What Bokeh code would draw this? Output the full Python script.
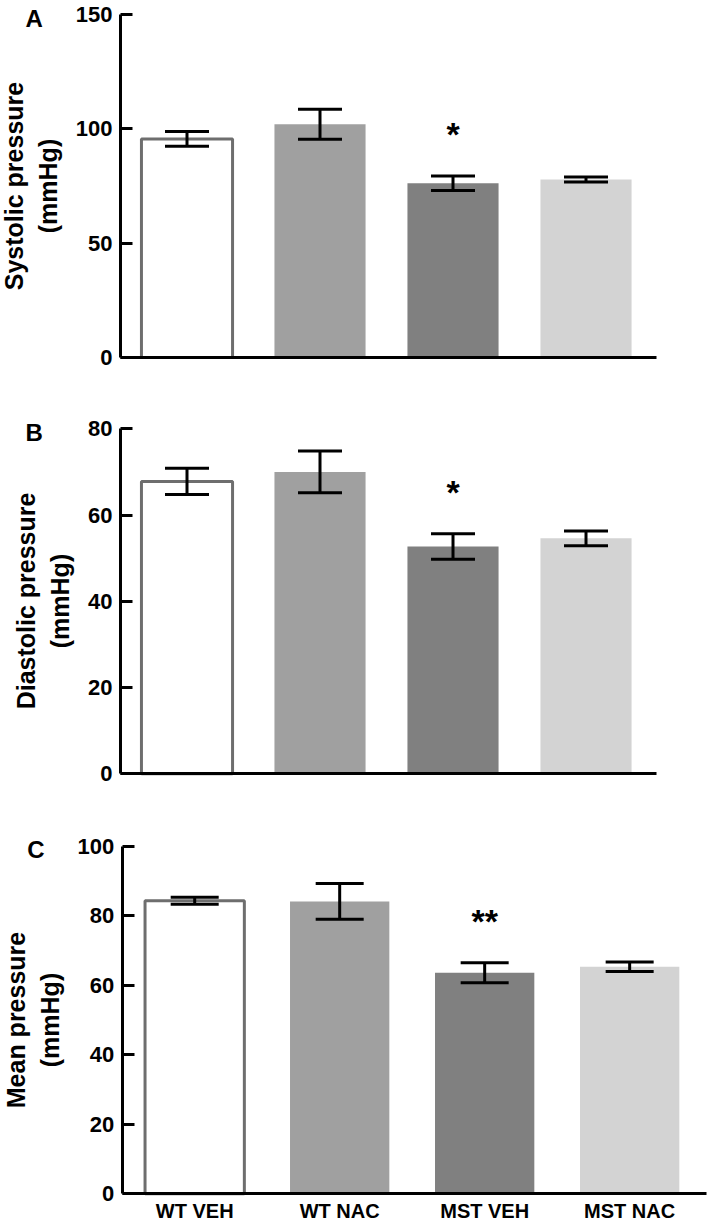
from bokeh.plotting import figure
from bokeh.models import (ColumnDataSource, Range1d, FixedTicker, Whisker, TeeHead, Label)
from bokeh.layouts import column
from bokeh.embed import file_html
from bokeh.resources import INLINE
from bokeh.core.properties import value

# ---------------- data ----------------
categories = ["WT VEH", "WT NAC", "MST VEH", "MST NAC"]
bar_colors = ["#ffffff", "#a0a0a0", "#808080", "#d3d3d3"]
bar_lines = ["#6e6e6e", None, None, None]

systolic_mean = [95.6, 102.0, 76.2, 77.8]
systolic_err = [3.25, 6.6, 3.2, 1.1]
systolic_sig = ["", "", "*", ""]
systolic_ticks = [0, 50, 100, 150]

diastolic_mean = [67.8, 70.0, 52.7, 54.6]
diastolic_err = [3.05, 4.85, 2.95, 1.7]
diastolic_sig = ["", "", "*", ""]
diastolic_ticks = [0, 20, 40, 60, 80]

mean_mean = [84.3, 84.1, 63.6, 65.3]
mean_err = [1.0, 5.15, 2.9, 1.35]
mean_sig = ["", "", "**", ""]
mean_ticks = [0, 20, 40, 60, 80, 100]

FONT = "Liberation Sans"
CANVAS_W = 709
X_SPAN = len(categories) + 0.03  # category units covered by the x axis line


def panel(letter, ylabel, means, errs, sig, ticks, height,
          ax_left, ax_right, ax_top, ax_zero, cap, show_x):
    """ax_* are pixel positions of the axes inside the canvas."""
    n = len(categories)
    xs = list(range(n))
    ppx = (ax_right - ax_left) / X_SPAN
    x0 = -0.5 - ax_left / ppx
    x1 = -0.5 + (CANVAS_W - ax_left) / ppx
    ymax = ticks[-1]
    ppy = (ax_zero - ax_top) / ymax
    y1 = ymax + ax_top / ppy
    y0 = -(height - ax_zero) / ppy

    p = figure(width=CANVAS_W, height=height, title=None,
               x_range=Range1d(x0, x1), y_range=Range1d(y0, y1),
               output_backend="svg", toolbar_location=None,
               min_border=0)
    p.outline_line_color = None
    p.xgrid.visible = False
    p.ygrid.visible = False
    p.background_fill_color = "white"
    p.border_fill_color = "white"

    src = ColumnDataSource(dict(
        x=xs, top=means,
        upper=[m + e for m, e in zip(means, errs)],
        lower=[m - e for m, e in zip(means, errs)],
        fill=bar_colors, line=bar_lines,
    ))
    p.vbar(x="x", top="top", bottom=0, width=0.685, source=src,
           fill_color="fill", line_color="line", line_width=3)

    head_u = TeeHead(size=cap, line_width=3, line_color="black")
    head_l = TeeHead(size=cap, line_width=3, line_color="black")
    p.add_layout(Whisker(base="x", upper="upper", lower="lower", source=src,
                         line_width=3, line_color="black", level="overlay",
                         upper_head=head_u, lower_head=head_l))

    sx = [x for x, s in zip(xs, sig) if s]
    sy = [m + e for m, e, s in zip(means, errs, sig) if s]
    st = [s for s in sig if s]
    p.text(x=sx, y=sy, text=st, text_align="center",
           text_baseline="middle", y_offset=-42,
           text_font=value(FONT), text_font_size="34px", text_font_style="bold",
           text_color="black")

    # y axis drawn at x = -0.5 inside the canvas
    ya = p.yaxis[0]
    ya.fixed_location = -0.5
    ya.bounds = (0, ymax)
    ya.ticker = FixedTicker(ticks=ticks)
    ya.minor_tick_line_color = None
    ya.major_tick_in = 12
    ya.major_tick_out = 0
    ya.axis_line_width = 3
    ya.major_tick_line_width = 3
    ya.major_label_standoff = 8
    ya.major_label_text_font = FONT
    ya.major_label_text_font_size = "22px"
    ya.major_label_text_font_style = "bold"
    ya.major_label_text_color = "black"
    ya.axis_label = ylabel
    ya.axis_label_text_font = FONT
    ya.axis_label_text_font_size = "25px"
    ya.axis_label_text_font_style = "bold"
    ya.axis_label_text_color = "black"
    ya.axis_label_standoff = 11

    # x axis drawn at y = 0
    xa = p.xaxis[0]
    xa.fixed_location = 0
    xa.bounds = (-0.5, -0.5 + X_SPAN)
    xa.major_tick_line_color = None
    xa.minor_tick_line_color = None
    xa.major_tick_in = 0
    xa.major_tick_out = 0
    xa.axis_line_width = 3
    xa.major_label_text_font = FONT
    xa.major_label_text_font_style = "bold"
    xa.major_label_text_color = "black"
    xa.major_label_text_font_size = "20px"
    xa.major_label_standoff = 6
    if show_x:
        xa.ticker = FixedTicker(ticks=xs)
        xa.major_label_overrides = {i: c for i, c in zip(xs, categories)}
    else:
        xa.ticker = FixedTicker(ticks=[])

    p.add_layout(Label(x=-0.5, y=ymax, x_offset=-95, y_offset=-3.5, text=letter,
                       text_align="left", text_baseline="middle",
                       text_font=FONT, text_font_size="24px", text_font_style="bold",
                       text_color="black"))
    return p


# panel canvases (picture rows): A 0-390, B 390-810, C 810-1224
pa = panel("A", "Systolic pressure\n(mmHg)", systolic_mean, systolic_err, systolic_sig,
           systolic_ticks, 390, 120, 656, 14, 357, 44, False)
pb = panel("B", "Diastolic pressure\n(mmHg)", diastolic_mean, diastolic_err, diastolic_sig,
           diastolic_ticks, 420, 120, 656, 38.3, 383.3, 44, False)
pc = panel("C", "Mean pressure\n(mmHg)", mean_mean, mean_err, mean_sig,
           mean_ticks, 414, 121.7, 706, 35.7, 383.3, 48, True)

layout = column(pa, pb, pc, spacing=0)
open("out.html", "w").write(file_html(layout, INLINE))
